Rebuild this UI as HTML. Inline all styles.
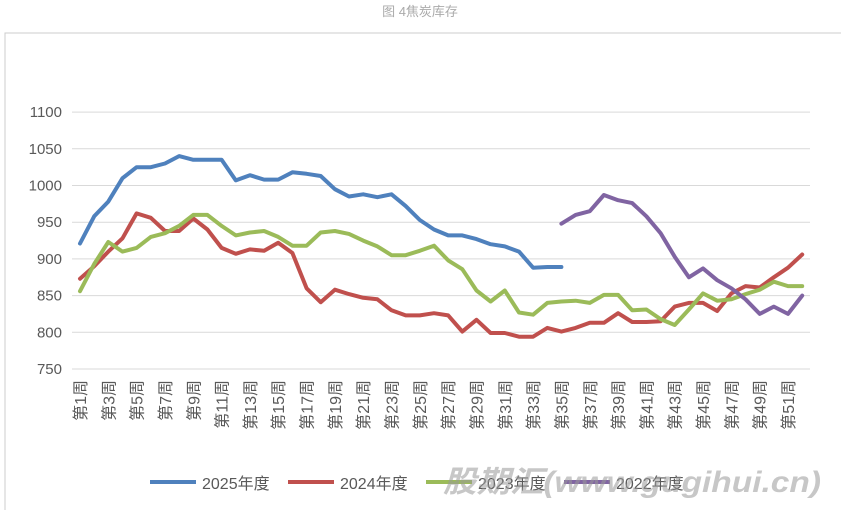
<!DOCTYPE html>
<html><head><meta charset="utf-8"><style>
body{margin:0;background:#fff;width:841px;height:510px;overflow:hidden;font-family:"Liberation Sans","Noto Sans CJK SC",sans-serif}
</style></head><body>
<svg id="s" width="841" height="510" xmlns="http://www.w3.org/2000/svg" font-family="Liberation Sans, Noto Sans CJK SC, sans-serif">
<text x="420" y="16" font-size="13" fill="#aaa" text-anchor="middle">图 4焦炭库存</text>
<path d="M5 510 V33 H841" fill="none" stroke="#ccc" stroke-width="1"/>
<g id="g"></g>
</svg>
<script>
var g=document.getElementById('g'),h='';
function Y(v){return 369-(v-750)*0.734;}
function X(w){return 80+(w-1)*14.16;}
for(var v=750;v<=1100;v+=50){var y=Y(v);h+='<line x1="72" x2="810" y1="'+y+'" y2="'+y+'" stroke="#d9d9d9" stroke-width="1"/>';h+='<text x="62" y="'+(y+5)+'" font-size="15" fill="#595959" text-anchor="end">'+v+'</text>';}
for(var w=1;w<=52;w+=2){var x=X(w)+6;h+='<text transform="translate('+x+',380) rotate(-90)" font-size="16" fill="#595959" text-anchor="end">第'+w+'周</text>';}
function line(d,s,c){var p=d.map(function(v,i){return X(s+i).toFixed(1)+','+Y(v).toFixed(1)}).join(' ');h+='<polyline points="'+p+'" fill="none" stroke="'+c+'" stroke-width="4" stroke-linejoin="round" stroke-linecap="round"/>';}
line([873,890,910,928,962,956,938,938,955,940,915,907,913,911,922,908,860,841,858,852,847,845,830,823,823,826,823,801,817,799,799,794,794,806,801,806,813,813,826,814,814,815,835,840,840,829,853,863,861,875,888,906],1,'#c0504d');
line([856,893,923,910,915,930,935,945,960,960,945,932,936,938,930,918,918,936,938,934,925,917,905,905,911,918,898,886,857,842,857,827,824,840,842,843,840,851,851,830,831,818,810,831,853,843,845,852,858,869,863,863],1,'#9bbb59');
line([921,958,978,1010,1025,1025,1030,1040,1035,1035,1035,1007,1014,1008,1008,1018,1016,1013,995,985,988,984,988,972,953,940,932,932,927,920,917,910,888,889,889],1,'#4f81bd');
line([948,960,965,987,980,976,958,935,903,875,887,871,860,845,825,835,825,850],35,'#8064a2');
var L=[['2025年度','#4f81bd',150],['2024年度','#c0504d',288],['2023年度','#9bbb59',426],['2022年度','#8064a2',564]];
L.forEach(function(l){h+='<line x1="'+l[2]+'" x2="'+(l[2]+46)+'" y1="482" y2="482" stroke="'+l[1]+'" stroke-width="4"/><text x="'+(l[2]+52)+'" y="489" font-size="16" fill="#595959">'+l[0]+'</text>';});
h+='<text x="443" y="492" font-size="30" font-weight="bold" font-style="italic" fill="#999" fill-opacity="0.55" textLength="378" lengthAdjust="spacingAndGlyphs">股期汇(www.gugihui.cn)</text>';
g.innerHTML=h;
</script>
</body></html>
